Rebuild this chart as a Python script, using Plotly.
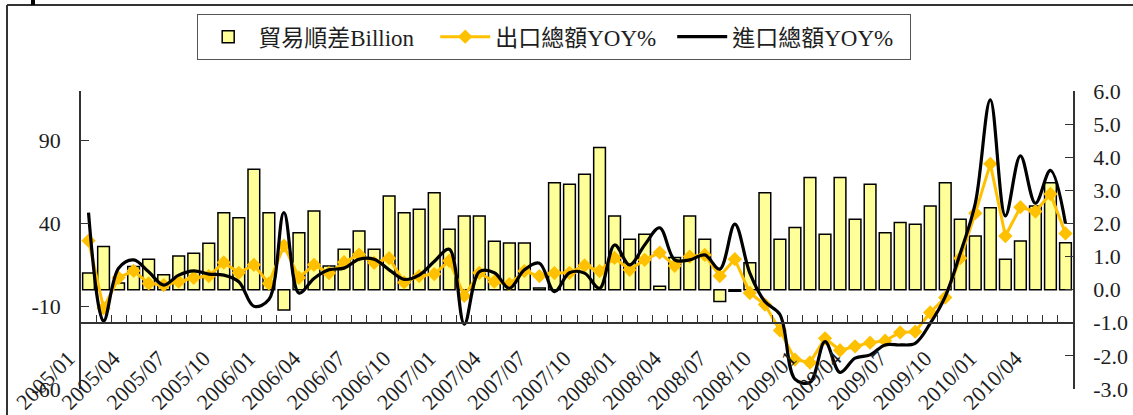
import plotly.graph_objects as go

months = [
    "2005/01", "2005/02", "2005/03", "2005/04", "2005/05", "2005/06", "2005/07", "2005/08", "2005/09", "2005/10", "2005/11", "2005/12",
    "2006/01", "2006/02", "2006/03", "2006/04", "2006/05", "2006/06", "2006/07", "2006/08", "2006/09", "2006/10", "2006/11", "2006/12",
    "2007/01", "2007/02", "2007/03", "2007/04", "2007/05", "2007/06", "2007/07", "2007/08", "2007/09", "2007/10", "2007/11", "2007/12",
    "2008/01", "2008/02", "2008/03", "2008/04", "2008/05", "2008/06", "2008/07", "2008/08", "2008/09", "2008/10", "2008/11", "2008/12",
    "2009/01", "2009/02", "2009/03", "2009/04", "2009/05", "2009/06", "2009/07", "2009/08", "2009/09", "2009/10", "2009/11", "2009/12",
    "2010/01", "2010/02", "2010/03", "2010/04", "2010/05", "2010/06",
]

trade_balance = [10, 26, 4, 14, 18.4, 9, 20.4, 22, 28, 46.5, 43.5, 72.7,
                 46.5, -12.3, 34.4, 47.5, 14.3, 24.4, 35.5, 24.4, 56.6, 46.5, 48.5, 58.6,
                 36.5, 44.5, 44.5, 29.2, 28.2, 28.2, 1, 64.6, 63.6, 69.7, 85.8, 44.5,
                 30.4, 33.4, 2, 19.4, 44.5, 30.4, -7.2, -1, 16.2, 58.6, 30.4, 37.5,
                 67.7, 33.4, 67.7, 42.5, 63.6, 34.4, 40.5, 39.5, 50.6, 64.6, 42.5, 32.4,
                 49.5, 18.4, 29.4, 50.6, 64.6, 28.4]

export_yoy = [1.48, -0.56, 0.36, 0.57, 0.19, 0.14, 0.24, 0.36, 0.41, 0.82, 0.51, 0.75,
              0.19, 1.33, 0.36, 0.75, 0.50, 0.83, 1.06, 0.81, 0.95, 0.22, 0.41, 0.47,
              0.87, -0.19, 0.51, 0.24, 0.17, 0.56, 0.41, 0.50, 0.51, 0.73, 0.56, 0.96,
              0.60, 0.90, 1.12, 0.72, 1.00, 1.05, 0.41, 0.92, -0.10, -0.45, -1.23, -2.11,
              -2.20, -1.47, -1.83, -1.71, -1.60, -1.54, -1.29, -1.27, -0.69, -0.24, 0.95, 2.31,
              3.80, 1.62, 2.49, 2.36, 2.89, 1.70]

import_yoy = [2.33, -0.95, 0.65, 0.90, 0.54, 0.14, 0.44, 0.57, 0.47, 0.44, 0.24, -0.50,
              -0.30, 2.33, -0.10, 0.34, 0.60, 0.65, 0.92, 0.92, 0.60, 0.31, 0.44, 0.85,
              1.22, -1.04, 0.54, 0.51, 0.04, 0.60, 0.80, -0.06, 0.51, 0.50, 0.04, 1.35,
              0.75, 1.35, 1.87, 0.90, 0.90, 1.05, 0.62, 1.98, 0.50, -0.36, -0.75, -2.70,
              -2.80, -1.57, -2.50, -2.07, -1.97, -1.67, -1.67, -1.62, -1.02, -0.21, 1.10, 2.61,
              5.73, 2.23, 4.04, 2.61, 3.60, 2.00]

left_ticks = [-60, -10, 40, 90]
left_labels = ["-60", "-10", "40", "90"]
right_ticks = [-3, -2, -1, 0, 1, 2, 3, 4, 5, 6]
right_labels = ["-3.0", "-2.0", "-1.0", "0.0", "1.0", "2.0", "3.0", "4.0", "5.0", "6.0"]

W, H = 1133, 415
L, R, T, B = 81, 60, 91, 26
PW, PH = W - L - R, H - T - B

def px_x(x):
    return (x - L) / PW

def px_y(y):
    return (H - B - y) / PH

FONT = "Liberation Serif, 'Times New Roman', 'Noto Sans CJK TC', serif"
TXT = "#1e1e1e"

fig = go.Figure()
fig.add_trace(go.Bar(
    x=months, y=trade_balance, name="貿易順差Billion",
    marker=dict(color="#FFFF99", line=dict(color="black", width=1.5)),
    yaxis="y",
))
fig.add_trace(go.Scatter(
    x=months, y=export_yoy, name="出口總額YOY%", mode="lines+markers",
    line=dict(color="#FFC000", width=3),
    marker=dict(symbol="diamond", size=11, color="#FFC000"),
    yaxis="y2",
))
fig.add_trace(go.Scatter(
    x=months, y=import_yoy, name="進口總額YOY%", mode="lines",
    line=dict(color="black", width=3.2, shape="spline", smoothing=1.0),
    yaxis="y2",
))

tick_text = [m if i % 3 == 0 else "" for i, m in enumerate(months)]

fig.update_layout(
    width=W, height=H,
    margin=dict(l=L, r=R, t=T, b=B, autoexpand=False),
    paper_bgcolor="white", plot_bgcolor="white",
    font=dict(family=FONT, size=22, color=TXT),
    bargap=0.22,
    showlegend=True,
    legend=dict(
        orientation="h", x=px_x(197), xanchor="left", y=px_y(14), yanchor="top",
        bordercolor="#555", borderwidth=1.2, bgcolor="white",
        font=dict(family=FONT, size=23, color=TXT),
        itemwidth=50, traceorder="normal",
        entrywidth=172, entrywidthmode="pixels",
        tracegroupgap=0,
    ),
    xaxis=dict(
        type="category", anchor="free", position=px_y(323),
        tickmode="array", tickvals=months, ticktext=tick_text,
        tickson="boundaries", ticks="inside", ticklen=7, tickcolor="#333",
        showline=True, linecolor="#333", linewidth=1.5,
        tickangle=-45, showgrid=False, zeroline=False,
        tickfont=dict(family=FONT, size=22, color=TXT),
        range=[-0.5, len(months) - 0.5],
        automargin=False,
        ticklabelshift=-20, ticklabelstandoff=13,
    ),
    yaxis=dict(
        range=[-60, 120], tickmode="array", tickvals=left_ticks, ticktext=left_labels,
        ticks="inside", ticklen=8, tickcolor="#333",
        showline=True, linecolor="#333", linewidth=1.5,
        showgrid=False, zeroline=False, automargin=False,
        ticklabelstandoff=14,
        tickfont=dict(family=FONT, size=22, color=TXT),
    ),
    yaxis2=dict(
        range=[-3, 6], overlaying="y", side="right", anchor="x",
        tickmode="array", tickvals=right_ticks, ticktext=right_labels,
        ticks="inside", ticklen=8, tickcolor="#333",
        showline=True, linecolor="#333", linewidth=1.5,
        showgrid=False, zeroline=False, automargin=False,
        ticklabelstandoff=14,
        tickfont=dict(family=FONT, size=22, color=TXT),
    ),
    shapes=[
        dict(type="line", xref="paper", yref="paper", x0=px_x(7), x1=px_x(1140),
             y0=px_y(5), y1=px_y(5), line=dict(color="#333", width=2)),
        dict(type="line", xref="paper", yref="paper", x0=px_x(7), x1=px_x(7),
             y0=px_y(5), y1=px_y(420), line=dict(color="#333", width=2)),
        dict(type="rect", xref="paper", yref="paper", x0=px_x(31), x1=px_x(35),
             y0=px_y(0), y1=px_y(5), line=dict(width=0), fillcolor="black"),
    ],
)

fig.write_html(
    "out.html",
    config={"displayModeBar": False},
    post_script="document.body.style.margin='0px';document.body.style.overflow='hidden';",
)
